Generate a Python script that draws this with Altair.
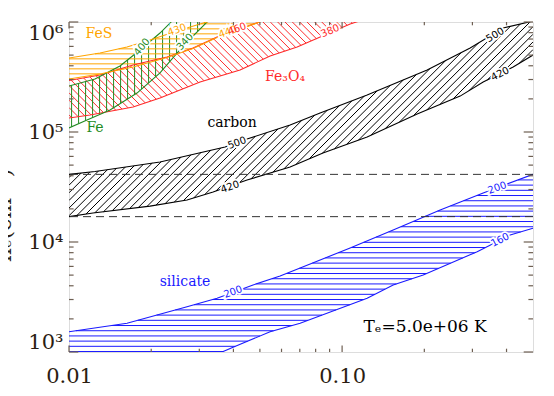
import numpy as np
import pandas as pd
import altair as alt

# ---------------- data ----------------
carbon_upper_x = [0.01, 0.01245, 0.02154, 0.03728, 0.04487, 0.0645, 0.08306, 0.1235, 0.2048, 0.2944, 0.3889, 0.5]
carbon_upper_y = [4.12e4, 4.38e4, 5.34e4, 7.31e4, 8.63e4, 1.158e5, 1.49e5, 2.17e5, 3.66e5, 5.8e5, 8.82e5, 1.02e6]
carbon_lower_x = [0.01, 0.01224, 0.0198, 0.02705, 0.0337, 0.04487, 0.0645, 0.0851, 0.1235, 0.1883, 0.2705, 0.3285, 0.423, 0.5]
carbon_lower_y = [1.70e4, 1.835e4, 2.12e4, 2.41e4, 2.85e4, 3.66e4, 4.81e4, 6.44e4, 9.01e4, 1.46e5, 2.12e5, 2.85e5, 3.9e5, 5.01e5]

silicate_upper_x = [0.01, 0.01631, 0.02705, 0.03484, 0.0472, 0.05928, 0.0702, 0.107, 0.1538, 0.2286, 0.3285, 0.5]
silicate_upper_y = [1529, 1824, 2581, 3077, 4064, 4909, 5802, 8820, 1.285e4, 1.953e4, 2.79e4, 4.12e4]
silicate_lower_x = [0.01, 0.03634, 0.03988, 0.05449, 0.0702, 0.1235, 0.1538, 0.1981, 0.3123, 0.4125, 0.5]
silicate_lower_y = [260, 1000, 1104, 1529, 1824, 3077, 4064, 5012, 8166, 1.158e4, 1.333e4]

fe3o4_upper_x = [0.01, 0.01299, 0.01716, 0.02285, 0.02846, 0.03484, 0.04413, 0.05093]
fe3o4_upper_y = [2.94e5, 3.30e5, 4.07e5, 4.81e5, 5.80e5, 7.31e5, 9.01e5, 1.02e6]
fe3o4_lower_x = [0.01, 0.01194, 0.01716, 0.02154, 0.03019, 0.0423, 0.05449, 0.06843, 0.107, 0.1184]
fe3o4_lower_y = [1.34e5, 1.427e5, 1.687e5, 2.04e5, 2.85e5, 3.66e5, 4.91e5, 5.93e5, 9.59e5, 1.04e6]

fe_upper_x = [0.01, 0.01245, 0.01537, 0.0182, 0.02154, 0.02384]
fe_upper_y = [2.62e5, 3.03e5, 3.98e5, 5.57e5, 7.94e5, 1.02e6]
fe_lower_x = [0.01, 0.01164, 0.01413, 0.01774, 0.02154, 0.0266, 0.03229]
fe_lower_y = [1.088e5, 1.285e5, 1.585e5, 2.26e5, 3.44e5, 6.31e5, 1.02e6]

fes_upper_x = [0.01, 0.01299, 0.01631, 0.0198, 0.02486, 0.03019, 0.03285]
fes_upper_y = [4.71e5, 5.22e5, 5.93e5, 6.86e5, 8.28e5, 9.59e5, 1.02e6]
fes_lower_x = [0.01, 0.01299, 0.01716, 0.02285, 0.02846, 0.03484, 0.04882, 0.05093]
fes_lower_y = [3.03e5, 3.37e5, 3.90e5, 4.76e5, 5.74e5, 7.23e5, 9.79e5, 1.04e6]

dashed_levels = [4.12e4, 1.70e4]

# contour labels: text, x, y, angle, colour
contour_text = ["500", "500", "420", "420", "200", "200", "160", "400", "340", "430", "440", "460", "380"]
contour_x = [0.04125, 0.3635, 0.03889, 0.3791, 0.03988, 0.3696, 0.3791, 0.01851, 0.0266, 0.02486, 0.03823, 0.04125, 0.0904]
contour_y = [7.94e4, 7.62e5, 3.16e4, 3.37e5, 3512, 3.10e4, 1.042e4, 5.93e5, 6.58e5, 8.46e5, 8.11e5, 8.64e5, 8.28e5]
contour_angle = [340, 329, 341, 333, 340, 340, 333, 310, 313, 340, 340, 340, 337]
contour_color = ["black", "black", "black", "black", "#1a1aff", "#1a1aff", "#1a1aff",
                 "#228b22", "#228b22", "#ffa500", "#ffa500", "#ff2a2a", "#ff2a2a"]

# species labels
name_text = ["FeS", "Fe", "Fe\u2083O\u2084", "carbon", "silicate"]
name_x = [0.01288, 0.01245, 0.0618, 0.03954, 0.0266]
name_y = [7.78e5, 1.088e5, 3.16e5, 1.208e5, 4329]
name_color = ["#ffa500", "#228b22", "#ff2a2a", "black", "#1a1aff"]

temp_text = ["T\u2091=5.0e+06  K"]
temp_x = [0.2014]
temp_y = [1687]

x_major = [0.01, 0.1]
x_minor = [0.02, 0.03, 0.04, 0.05, 0.06, 0.07, 0.08, 0.09, 0.2, 0.3, 0.4]
y_major = [1e3, 1e4, 1e5, 1e6]
y_minor = [k * 10 ** d for d in (3, 4, 5) for k in range(2, 10)]

# ---------------- geometry helpers for hatching ----------------
W, H = 464, 330
LX0, LX1 = np.log10(0.01), np.log10(0.5)
LY0, LY1 = 3.0, 6.0


def to_px(x, y):
    x = np.asarray(x, float)
    y = np.asarray(y, float)
    return (np.log10(x) - LX0) / (LX1 - LX0) * W, (LY1 - np.log10(y)) / (LY1 - LY0) * H


def from_px(px, py):
    return 10 ** (LX0 + px / W * (LX1 - LX0)), 10 ** (LY1 - py / H * (LY1 - LY0))


def clip_seg(x0, y0, x1, y1):
    dx, dy = x1 - x0, y1 - y0
    t0, t1 = 0.0, 1.0
    for p, q in ((-dx, x0), (dx, W - x0), (-dy, y0), (dy, H - y0)):
        if abs(p) < 1e-12:
            if q < 0:
                return None
        else:
            r = q / p
            if p < 0:
                if r > t1:
                    return None
                t0 = max(t0, r)
            else:
                if r < t0:
                    return None
                t1 = min(t1, r)
    if t1 - t0 < 1e-9:
        return None
    return x0 + t0 * dx, y0 + t0 * dy, x0 + t1 * dx, y0 + t1 * dy


def hatch(ux, uy, lx, ly, angle, spacing):
    px, py = to_px(list(ux) + list(lx)[::-1], list(uy) + list(ly)[::-1])
    a = np.radians(angle)
    d = np.array([np.cos(a), -np.sin(a)])
    nrm = np.array([-d[1], d[0]])
    proj = px * nrm[0] + py * nrm[1]
    n = len(px)
    rows = []
    c = np.floor(proj.min() / spacing) * spacing + spacing * 0.37
    while c < proj.max():
        hits = []
        for i in range(n):
            j = (i + 1) % n
            p0, p1 = proj[i] - c, proj[j] - c
            if (p0 < 0) != (p1 < 0):
                f = p0 / (p0 - p1)
                ix = px[i] + f * (px[j] - px[i])
                iy = py[i] + f * (py[j] - py[i])
                hits.append((ix * d[0] + iy * d[1], ix, iy))
        hits.sort()
        for k in range(0, len(hits) - 1, 2):
            s = clip_seg(hits[k][1], hits[k][2], hits[k + 1][1], hits[k + 1][2])
            if s:
                xa, ya = from_px(s[0], s[1])
                xb, yb = from_px(s[2], s[3])
                rows.append(dict(x=xa, y=ya, x2=xb, y2=yb))
        c += spacing
    return pd.DataFrame(rows)


def edges(ux, uy, lx, ly):
    rows = [dict(x=a, y=b, i=k, e="u") for k, (a, b) in enumerate(zip(ux, uy))]
    rows += [dict(x=a, y=b, i=k, e="l") for k, (a, b) in enumerate(zip(lx, ly))]
    return pd.DataFrame(rows)


# ---------------- styling ----------------
SERIF = "DejaVu Serif"
FRAME = "#6e5f52"
LABEL = "#2b1d12"
BLUE, RED, GREEN, ORANGE = "#1a1aff", "#ff2a2a", "#228b22", "#ffa500"

xs = alt.Scale(type="log", domain=[0.01, 0.5], nice=False)
ys = alt.Scale(type="log", domain=[1000, 1e6], nice=False)
x_axis = alt.Axis(values=x_major, format=".2f", grid=False, ticks=False, domain=False,
                  labelFont=SERIF, labelFontSize=21, labelColor=LABEL, labelPadding=13,
                  labelFlush=False, title=None)
y_axis = alt.Axis(values=y_major,
                  labelExpr="datum.value == 1000 ? '10\u00b3' : datum.value == 10000 ? '10\u2074' : datum.value == 100000 ? '10\u2075' : '10\u2076'",
                  grid=False, ticks=False, domain=False,
                  labelFont=SERIF, labelFontSize=21, labelColor=LABEL, labelPadding=6,
                  labelFlush=True,
                  title="n\u2091(cm\u207b\u00b3)", titleX=-59, titleY=193, titleAngle=270,
                  titleAlign="center", titleBaseline="alphabetic", titleFont=SERIF,
                  titleFontSize=22, titleFontWeight="normal", titleColor=LABEL)


def X(f="x"):
    return alt.X(f"{f}:Q", scale=xs, axis=x_axis)


def Y(f="y"):
    return alt.Y(f"{f}:Q", scale=ys, axis=y_axis)


def hatch_layer(df, color):
    return alt.Chart(df).mark_rule(color=color, strokeWidth=1, clip=True).encode(
        x=X(), y=Y(), x2="x2:Q", y2="y2:Q")


def edge_layer(df, color):
    return alt.Chart(df).mark_line(color=color, strokeWidth=1.1, clip=True).encode(
        x=X(), y=Y(), detail="e:N", order="i:Q")


bands = [
    (carbon_upper_x, carbon_upper_y, carbon_lower_x, carbon_lower_y, 45, 5.4, "black"),
    (silicate_upper_x, silicate_upper_y, silicate_lower_x, silicate_lower_y, 0, 5.2, BLUE),
    (fe3o4_upper_x, fe3o4_upper_y, fe3o4_lower_x, fe3o4_lower_y, 135, 5.2, RED),
    (fe_upper_x, fe_upper_y, fe_lower_x, fe_lower_y, 90, 7.0, GREEN),
    (fes_upper_x, fes_upper_y, fes_lower_x, fes_lower_y, 0, 5.0, ORANGE),
]

layers = []
for ux, uy, lx, ly, ang, sp, col in bands:
    layers.append(hatch_layer(hatch(ux, uy, lx, ly, ang, sp), col))
for ux, uy, lx, ly, ang, sp, col in bands:
    layers.append(edge_layer(edges(ux, uy, lx, ly), col))

dash = alt.Chart(pd.DataFrame({"y": dashed_levels})).mark_rule(
    color="#333333", strokeDash=[8, 5], strokeWidth=1).encode(y=Y())
layers.append(dash)

cdf = pd.DataFrame({"t": contour_text, "x": contour_x, "y": contour_y,
                    "a": contour_angle, "c": contour_color})
layers.append(alt.Chart(cdf).mark_text(font="DejaVu Sans", fontSize=10, stroke="white",
                                       strokeWidth=3.5).encode(
    x=X(), y=Y(), text="t:N", angle=alt.Angle("a:Q", scale=None)))
layers.append(alt.Chart(cdf).mark_text(font="DejaVu Sans", fontSize=10).encode(
    x=X(), y=Y(), text="t:N", angle=alt.Angle("a:Q", scale=None),
    color=alt.Color("c:N", scale=None)))

ndf = pd.DataFrame({"t": name_text, "x": name_x, "y": name_y, "c": name_color})
layers.append(alt.Chart(ndf).mark_text(font=SERIF, fontSize=14).encode(
    x=X(), y=Y(), text="t:N", color=alt.Color("c:N", scale=None)))

tdf = pd.DataFrame({"t": temp_text, "x": temp_x, "y": temp_y})
layers.append(alt.Chart(tdf).mark_text(font=SERIF, fontSize=17, color="black").encode(
    x=X(), y=Y(), text="t:N"))

# inward tick marks on all four sides
for vals, ln in ((x_major, 6.6), (x_minor, 3.3)):
    d = pd.DataFrame({"x": vals})
    layers.append(alt.Chart(d).mark_rule(color=FRAME, strokeWidth=1.2).encode(
        x=X(), y=alt.value(H), y2=alt.value(H - ln)))
    layers.append(alt.Chart(d).mark_rule(color=FRAME, strokeWidth=1.2).encode(
        x=X(), y=alt.value(0), y2=alt.value(ln)))
for vals, ln in ((y_major, 9.3), (y_minor, 4.6)):
    d = pd.DataFrame({"y": vals})
    layers.append(alt.Chart(d).mark_rule(color=FRAME, strokeWidth=1.2).encode(
        y=Y(), x=alt.value(0), x2=alt.value(ln)))
    layers.append(alt.Chart(d).mark_rule(color=FRAME, strokeWidth=1.2).encode(
        y=Y(), x=alt.value(W), x2=alt.value(W - ln)))

chart = alt.layer(*layers).properties(
    width=W, height=H,
    autosize=alt.AutoSizeParams(type="none"),
    padding={"left": 61, "top": 14, "right": 13, "bottom": 36},
).configure_view(stroke=FRAME, strokeWidth=1.6).configure(background="white")

chart.save("out.html", embed_options={"renderer": "svg", "actions": False})
